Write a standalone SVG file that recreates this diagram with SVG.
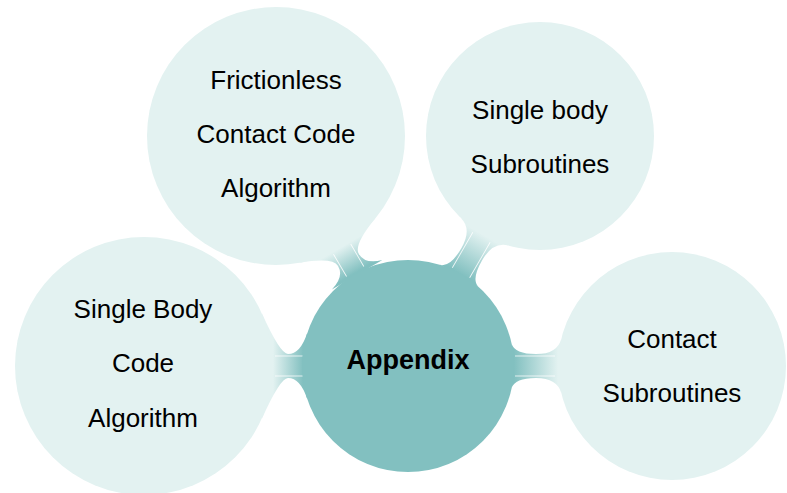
<svg xmlns="http://www.w3.org/2000/svg" width="787" height="493" viewBox="0 0 787 493">
  <style>
    .leaf { fill: #e3f2f1; }
    .root { fill: #82c0c0; }
    .seam { stroke: #ffffff; stroke-width: 0.9; stroke-opacity: 0.85; fill: none; }
    text { font-family: "Liberation Sans", Arial, sans-serif; font-size: 26px; fill: #000; text-anchor: middle; }
    .bold { font-weight: bold; font-size: 27px; }
  </style>
  <defs>
    <!-- each bar fades from the child colour (child edge) to the root colour (root edge); local x axis points from child to root -->
    <linearGradient id="gLeft" gradientUnits="userSpaceOnUse" x1="129" y1="0" x2="159" y2="0">
      <stop offset="0" stop-color="#e3f2f1"/>
      <stop offset="1" stop-color="#82c0c0"/>
    </linearGradient>
    <linearGradient id="gRight" gradientUnits="userSpaceOnUse" x1="114" y1="0" x2="158" y2="0">
      <stop offset="0" stop-color="#e3f2f1"/>
      <stop offset="1" stop-color="#82c0c0"/>
    </linearGradient>
    <linearGradient id="gTopLeft" gradientUnits="userSpaceOnUse" x1="129" y1="0" x2="158" y2="0">
      <stop offset="0" stop-color="#e3f2f1"/>
      <stop offset="1" stop-color="#82c0c0"/>
    </linearGradient>
    <linearGradient id="gTopRight" gradientUnits="userSpaceOnUse" x1="114" y1="0" x2="159" y2="0">
      <stop offset="0" stop-color="#e3f2f1"/>
      <stop offset="1" stop-color="#82c0c0"/>
    </linearGradient>
  </defs>

  <g id="connectors">
    <!-- Single Body Code Algorithm -> Appendix -->
    <g transform="translate(144,366) rotate(0)">
      <path fill="url(#gLeft)" d="M118,-52.5 Q136.2,-12 144,-12 Q156.4,-12 163.2,-33 L163.2,33 Q156.4,12 144,12 Q136.2,12 118,52.5 Z"/>
      <path class="seam" d="M131,-10 L159,-10 M131,10 L159,10"/>
    </g>
    <!-- Contact Subroutines -> Appendix -->
    <g transform="translate(672,366) rotate(180)">
      <path fill="url(#gRight)" d="M110.6,-27.6 Q114.5,-12 136,-12 Q157.2,-12 160.3,-22 L160.3,22 Q157.2,12 136,12 Q114.5,12 110.6,27.6 Z"/>
      <path class="seam" d="M117,-10 L157,-10 M117,10 L157,10"/>
    </g>
    <!-- Frictionless Contact Code Algorithm -> Appendix -->
    <g transform="translate(276,136) rotate(59.7)">
      <path fill="url(#gTopLeft)" d="M121.2,-44.1 Q133,-12 143.5,-12 Q155.8,-12 160.8,-29.2 L160.8,29.2 Q155.8,12 143.5,12 Q133,12 121.2,44.1 Z"/>
      <path class="seam" d="M131,-10 L157,-10 M131,10 L157,10"/>
    </g>
    <!-- Single body Subroutines -> Appendix -->
    <g transform="translate(540,136) rotate(120)">
      <path fill="url(#gTopRight)" d="M110.6,-27.6 Q114.5,-12 136.5,-12 Q158.6,-12 161.5,-22 L161.5,22 Q158.6,12 136.5,12 Q114.5,12 110.6,27.6 Z"/>
      <path class="seam" d="M117,-10 L158,-10 M117,10 L158,10"/>
    </g>
  </g>

  <g id="node-frictionless">
    <circle class="leaf" cx="276" cy="136" r="129"/>
    <text x="276" y="89">Frictionless</text>
    <text x="276" y="143">Contact Code</text>
    <text x="276" y="197">Algorithm</text>
  </g>

  <g id="node-single-body-subroutines">
    <circle class="leaf" cx="540" cy="136" r="114"/>
    <text x="540" y="119">Single body</text>
    <text x="540" y="173">Subroutines</text>
  </g>

  <g id="node-single-body-code">
    <circle class="leaf" cx="144" cy="366" r="129"/>
    <text x="143" y="318">Single Body</text>
    <text x="143" y="372">Code</text>
    <text x="143" y="427">Algorithm</text>
  </g>

  <g id="node-contact-subroutines">
    <circle class="leaf" cx="672" cy="366" r="114"/>
    <text x="672" y="348">Contact</text>
    <text x="672" y="402">Subroutines</text>
  </g>

  <g id="node-appendix">
    <circle class="root" cx="408" cy="366" r="106"/>
    <text class="bold" x="408" y="369">Appendix</text>
  </g>
</svg>
